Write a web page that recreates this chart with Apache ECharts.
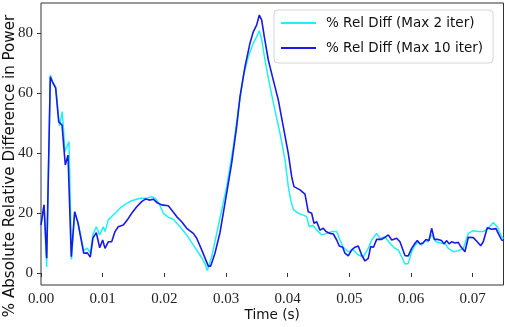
<!DOCTYPE html>
<html>
<head>
<meta charset="utf-8">
<script src="https://cdn.jsdelivr.net/npm/echarts@6/dist/echarts.min.js"></script>
<style>
html,body{margin:0;padding:0;background:#fff;}
#chart{width:505px;height:327px;}
</style>
</head>
<body>
<div id="chart"></div>
<script>
// ---- data ----
const seriesNames = ['% Rel Diff (Max 2 iter)', '% Rel Diff (Max 10 iter)'];

// Max 2 iter (cyan)
const t2 = [0,0.00049,0.00092,0.00151,0.00183,0.00238,0.00300,0.00345,0.00389,0.00454,0.00495,0.00546,0.00600,0.00692,0.00751,0.00799,0.00843,0.00897,0.00952,0.01010,0.01038,0.01091,0.01200,0.01281,0.01390,0.01471,0.01605,0.01714,0.01795,0.01849,0.01918,0.01983,0.02064,0.02145,0.02254,0.02363,0.02470,0.02578,0.02659,0.02697,0.02768,0.02849,0.02930,0.03011,0.03118,0.03199,0.03280,0.03361,0.03442,0.03498,0.03540,0.03579,0.03632,0.03713,0.03794,0.03875,0.03957,0.04010,0.04049,0.04091,0.04172,0.04253,0.04308,0.04351,0.04411,0.04471,0.04552,0.04633,0.04714,0.04795,0.04848,0.04902,0.04983,0.05064,0.05145,0.05226,0.05307,0.05362,0.05443,0.05497,0.05578,0.05659,0.05740,0.05794,0.05849,0.05902,0.05956,0.06011,0.06065,0.06118,0.06173,0.06227,0.06275,0.06335,0.06405,0.06497,0.06551,0.06605,0.06686,0.06767,0.06848,0.06929,0.07010,0.07091,0.07172,0.07253,0.07334,0.07399,0.07470,0.07500];
const v2 = [16,22.7,2.0,66,64,62,49,53.8,40.5,43.8,4.5,20.4,16.7,7.5,8.3,6.5,13,15.4,12.7,15.4,13.8,17.7,19.9,21.6,23.2,24.1,24.9,24.9,25.4,24.9,23,19.9,18.6,17.9,15.4,12.7,9.3,6,3.2,0.8,5.4,13.2,21,28.8,42.1,54.3,65.4,72.1,76.6,78.8,80.8,77.7,71,62.1,54.3,46.6,37.7,28.8,24.3,21.2,19.9,19.3,18.8,15.4,15.9,14.3,12.7,13.2,13.8,13.8,11,8.6,7.1,7.7,6,5.4,8.2,11,13.2,11.6,12,9.9,8.2,7.7,5.4,3,3.2,7.1,9.3,10.4,9.3,10.8,10.4,12.7,10.4,9.9,9.9,8.2,7.1,7.4,8.2,13.2,14.1,13.8,13.8,14.9,16.8,15.4,12.1,11.5];

// Max 10 iter (blue)
const t10 = [0,0.00049,0.00092,0.00151,0.00183,0.00238,0.00287,0.00341,0.00394,0.00438,0.00491,0.00546,0.00600,0.00692,0.00751,0.00799,0.00843,0.00897,0.00952,0.01000,0.01038,0.01091,0.01146,0.01200,0.01253,0.01335,0.01416,0.01471,0.01552,0.01633,0.01698,0.01756,0.01821,0.01886,0.01957,0.02064,0.02119,0.02200,0.02281,0.02363,0.02470,0.02525,0.02606,0.02713,0.02752,0.02821,0.02903,0.03011,0.03092,0.03173,0.03227,0.03308,0.03389,0.03442,0.03498,0.03540,0.03579,0.03621,0.03686,0.03767,0.03848,0.03929,0.04010,0.04065,0.04102,0.04200,0.04281,0.04334,0.04389,0.04427,0.04471,0.04524,0.04578,0.04621,0.04686,0.04740,0.04795,0.04837,0.04892,0.04929,0.04983,0.05038,0.05092,0.05145,0.05200,0.05254,0.05307,0.05346,0.05392,0.05443,0.05524,0.05578,0.05632,0.05687,0.05768,0.05821,0.05902,0.05956,0.06011,0.06065,0.06102,0.06146,0.06194,0.06243,0.06291,0.06335,0.06378,0.06437,0.06497,0.06535,0.06579,0.06616,0.06660,0.06713,0.06767,0.06806,0.06875,0.06929,0.07010,0.07075,0.07130,0.07172,0.07237,0.07308,0.07378,0.07415,0.07470,0.07500];
const v10 = [16,22.7,4.9,65.4,63.8,61.6,50.4,49.3,36,39.3,5.4,20.4,16.7,6.6,6.7,5.3,11.7,13.4,8.4,11,8.2,10.4,10.4,13.8,15.4,16,18.2,19.9,22.1,23.8,24.7,24.3,24.6,23.4,22.7,22.4,21,18.8,17.1,14.9,13.2,11.6,7.7,2.3,2.3,6.6,13.5,26.6,36.6,48.8,58.8,68.8,76.6,80.4,82.7,86,84.3,78.8,71,64.3,57.7,48.8,39.9,32.1,28.8,27.7,26.3,20.4,19.9,16.6,17.1,14.3,14.9,13.8,13.2,13,11,9,8.6,6.6,5.7,7.7,8.6,9,6,4,4.9,8.8,8.6,11.2,11.2,11.9,12.7,11,11.6,10.4,5.8,5.7,8.2,9.9,10.8,9.7,10,11.2,10.8,14.9,11.2,11.2,10.8,9.7,10.8,9.7,10.4,10,10.2,8.8,7.1,11.9,11.8,10.4,9.1,10.4,15.1,14.6,14.8,13.2,11,10.8];

const xTicks = [0, 0.01, 0.02, 0.03, 0.04, 0.05, 0.06, 0.07];
const yTicks = [0, 20, 40, 60, 80];

const pairs = (t, v) => t.map((x, i) => [x, v[i]]);

const chart = echarts.init(document.getElementById('chart'), null, {renderer: 'canvas'});
const tickFont = {fontFamily: 'Liberation Serif', fontSize: 15, color: '#222'};
chart.setOption({
  animation: false,
  backgroundColor: '#fff',
  grid: {left: 41, right: 1.5, top: 3, bottom: 42, containLabel: false, outerBoundsMode: 'none',
         show: true, borderColor: '#333', borderWidth: 1, backgroundColor: 'transparent'},
  legend: {
    orient: 'vertical', left: 274, top: 10,
    padding: [6, 10, 8, 6],
    itemWidth: 35, itemHeight: 14, itemGap: 11,
    itemStyle: {color: 'transparent', borderColor: 'transparent', borderWidth: 0, opacity: 0},
    backgroundColor: 'rgba(255,255,255,0.85)', borderColor: '#d4d4d4', borderWidth: 1, borderRadius: 4,
    textStyle: {fontFamily: 'DejaVu Sans', fontSize: 13.5, color: '#111', padding: [0, 0, 0, 5]},
    data: seriesNames
  },
  xAxis: {
    type: 'value', min: 0, max: 0.075,
    name: 'Time (s)', nameLocation: 'middle', nameGap: 23, nameMoveOverlap: false,
    nameTextStyle: {fontFamily: 'DejaVu Sans', fontSize: 13.6, color: '#111'},
    axisLine: {show: false},
    axisTick: {show: true, inside: false, length: 4, lineStyle: {color: '#333'}, customValues: xTicks},
    axisLabel: Object.assign({margin: 7, customValues: xTicks, formatter: v => v.toFixed(2)}, tickFont),
    splitLine: {show: false}
  },
  yAxis: {
    type: 'value', min: -4, max: 90,
    name: '% Absolute Relative Difference in Power', nameLocation: 'middle', nameRotate: 90, nameGap: 23, nameMoveOverlap: false,
    nameTextStyle: {fontFamily: 'DejaVu Sans', fontSize: 15.1, color: '#111', padding: [0, 44, 0, 0]},
    axisLine: {show: false},
    axisTick: {show: true, inside: false, length: 4, lineStyle: {color: '#333'}, customValues: yTicks},
    axisLabel: Object.assign({margin: 8, customValues: yTicks, formatter: v => String(v)}, tickFont),
    splitLine: {show: false}
  },
  series: [
    {name: seriesNames[0], type: 'line', data: pairs(t2, v2), symbol: 'none', lineStyle: {color: '#22f0f0', width: 1.5}, itemStyle: {color: '#22f0f0'}},
    {name: seriesNames[1], type: 'line', data: pairs(t10, v10), symbol: 'none', lineStyle: {color: '#1a1ae6', width: 1.6}, itemStyle: {color: '#1a1ae6'}}
  ]
});
</script>
</body>
</html>
